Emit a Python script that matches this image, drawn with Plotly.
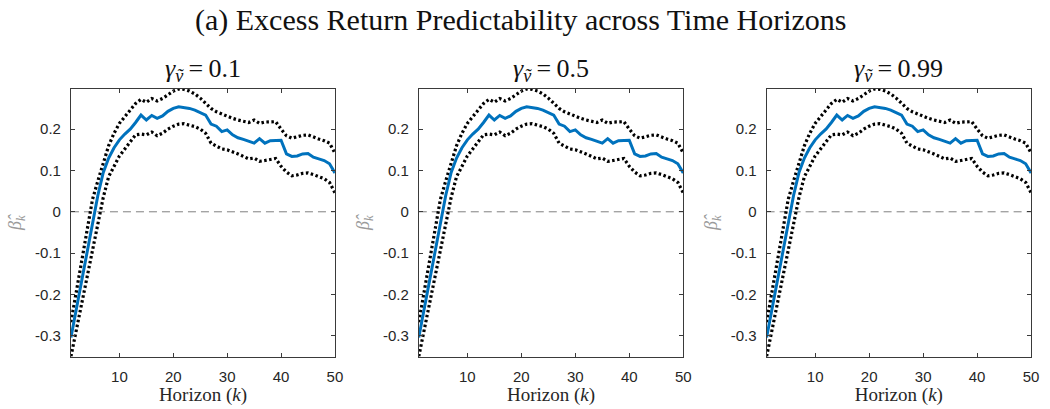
import plotly.graph_objects as go

# ---------------- data ----------------
horizon = list(range(1, 51))

beta_hat = [-0.304, -0.235, -0.165, -0.100, -0.030, 0.040, 0.095, 0.130, 0.155, 0.174,
            0.188, 0.200, 0.216, 0.234, 0.222, 0.233, 0.226, 0.232, 0.243, 0.250,
            0.254, 0.252, 0.250, 0.246, 0.240, 0.234, 0.212, 0.207, 0.194, 0.198,
            0.186, 0.179, 0.175, 0.170, 0.166, 0.177, 0.166, 0.172, 0.172, 0.173,
            0.140, 0.134, 0.135, 0.140, 0.141, 0.132, 0.128, 0.124, 0.116, 0.094]

upper_ci = [-0.267, -0.190, -0.115, -0.040, 0.030, 0.075, 0.120, 0.160, 0.190, 0.214,
            0.230, 0.247, 0.262, 0.272, 0.265, 0.274, 0.268, 0.274, 0.283, 0.292,
            0.297, 0.296, 0.292, 0.285, 0.275, 0.263, 0.250, 0.242, 0.236, 0.232,
            0.226, 0.222, 0.219, 0.216, 0.222, 0.214, 0.217, 0.218, 0.218, 0.200,
            0.184, 0.178, 0.182, 0.185, 0.186, 0.180, 0.176, 0.172, 0.166, 0.142]

lower_ci = [-0.350, -0.285, -0.220, -0.155, -0.090, -0.026, 0.035, 0.085, 0.112, 0.135,
            0.152, 0.168, 0.186, 0.188, 0.186, 0.193, 0.184, 0.190, 0.200, 0.207,
            0.212, 0.213, 0.210, 0.206, 0.200, 0.190, 0.166, 0.158, 0.152, 0.150,
            0.146, 0.140, 0.134, 0.128, 0.130, 0.122, 0.124, 0.126, 0.129, 0.110,
            0.096, 0.087, 0.089, 0.093, 0.094, 0.090, 0.086, 0.080, 0.071, 0.046]

gamma_values = ["0.1", "0.5", "0.99"]
x_ticks = [10, 20, 30, 40, 50]
y_ticks = [-0.3, -0.2, -0.1, 0, 0.1, 0.2]
y_tick_labels = ["-0.3", "-0.2", "-0.1", "0", "0.1", "0.2"]
x_lim = [1, 50]
y_lim = [-0.35, 0.297]
zero_line = [0, 0]

main_title = "(a) Excess Return Predictability across Time Horizons"

# ---------------- figure ----------------
W, H = 1050, 409
x_domains = [(71.5 / W, 337.5 / W), (422 / W, 688.5 / W), (772.5 / W, 1039 / W)]
y_domain = (1 - 356.5 / H, 1 - 89 / H)

fig = go.Figure()
axis_col = "#3a3a3a"
serif = "Liberation Serif, DejaVu Serif, serif"
sans = "Liberation Sans, Arial, sans-serif"

for i, g in enumerate(gamma_values):
    n = "" if i == 0 else str(i + 1)
    xa, ya = "x" + n, "y" + n
    fig.add_trace(go.Scatter(x=x_lim, y=zero_line, mode="lines",
                             line=dict(color="#808080", width=1, dash="8px,5px"),
                             xaxis=xa, yaxis=ya, showlegend=False, hoverinfo="skip"))
    for band in (upper_ci, lower_ci):
        fig.add_trace(go.Scatter(x=horizon, y=band, mode="lines",
                                 line=dict(color="black", width=3.2, dash="2.5px,2.5px"),
                                 xaxis=xa, yaxis=ya, showlegend=False))
    fig.add_trace(go.Scatter(x=horizon, y=beta_hat, mode="lines",
                             line=dict(color="#0072BD", width=3),
                             xaxis=xa, yaxis=ya, showlegend=False))

    common = dict(showline=True, linecolor=axis_col, linewidth=1, mirror="ticks",
                  ticks="inside", ticklen=4, tickcolor=axis_col, tickwidth=1,
                  showgrid=False, zeroline=False,
                  tickfont=dict(family=sans, size=15, color="#262626"))
    fig.update_layout(**{
        "xaxis" + n: dict(domain=list(x_domains[i]), range=x_lim, tickvals=x_ticks,
                          anchor=ya, ticklabelstandoff=6,
                          title=dict(text="Horizon (<i>k</i>)",
                                     font=dict(family=serif, size=19, color="#262626"),
                                     standoff=2),
                          **common),
        "yaxis" + n: dict(domain=list(y_domain), range=y_lim, tickvals=y_ticks,
                          ticktext=y_tick_labels, anchor=xa, ticklabelstandoff=6,
                          title=dict(text="<i>β̂</i><sub><i>k</i></sub>",
                                     font=dict(family=serif, size=18, color="#9a9a9a"),
                                     standoff=8),
                          **common),
    })
    cx = (x_domains[i][0] + x_domains[i][1]) / 2
    fig.add_annotation(text="<i>γ</i><sub><i>ṽ</i></sub>\u2009=\u2009" + g, x=cx, y=1 - 70 / H,
                       xref="paper", yref="paper", showarrow=False,
                       xanchor="center", yanchor="middle",
                       font=dict(family=serif, size=26, color="#111111"))

fig.add_annotation(text=main_title, x=0.5, y=1 - 20 / H, xref="paper", yref="paper",
                   showarrow=False, xanchor="center", yanchor="middle",
                   font=dict(family=serif, size=30, color="#111111"))

fig.update_layout(width=W, height=H, margin=dict(l=0, r=0, t=0, b=0),
                  paper_bgcolor="white", plot_bgcolor="white")

fig.write_html("out.html")
